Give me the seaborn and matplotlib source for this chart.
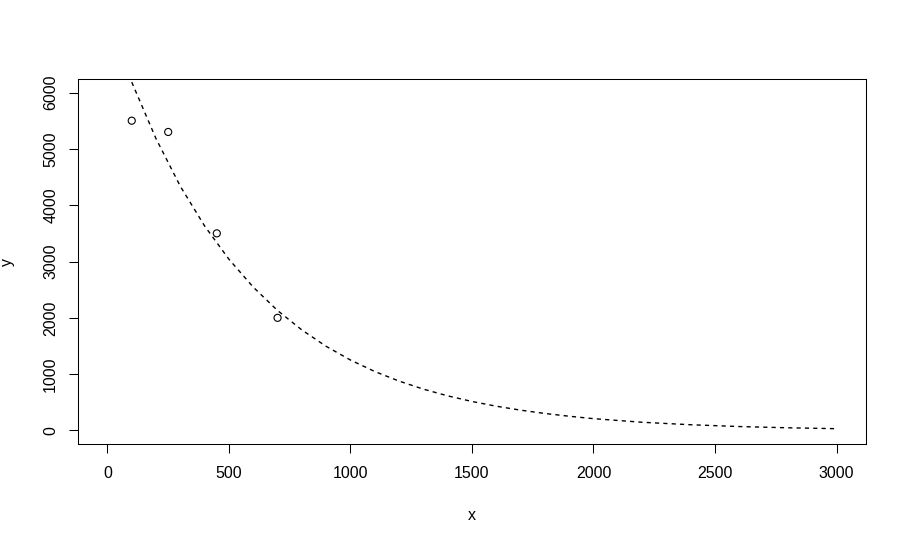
import matplotlib
matplotlib.use("Agg")
import matplotlib.pyplot as plt
import seaborn as sns

# observed points
obs_x = [100, 250, 450, 700]
obs_y = [5500, 5300, 3500, 2000]

# fitted curve
fit_x = [100, 200, 300, 400, 500, 600, 700, 800, 900, 1000,
         1100, 1200, 1300, 1400, 1500, 1600, 1700, 1800, 1900, 2000,
         2200, 2400, 2600, 2800, 3000]
fit_y = [6185, 5180, 4335, 3630, 3040, 2545, 2130, 1785, 1494, 1251,
         1047, 877, 734, 615, 515, 431, 361, 302, 253, 210,
         146, 102, 70, 48, 32]

x_ticks = [0, 500, 1000, 1500, 2000, 2500, 3000]
y_ticks = [0, 1000, 2000, 3000, 4000, 5000, 6000]

sns.set_style("white")
plt.rcParams['font.family'] = ['Liberation Sans', 'DejaVu Sans']

fig = plt.figure(figsize=(9.06, 5.42), dpi=100)
ax = fig.add_axes([0.0864, 0.1808, 0.8691, 0.6734])

# dashed fit curve
sns.lineplot(x=fit_x, y=fit_y, ax=ax, color='black', lw=1.0,
             linestyle=(0, (3, 3)), estimator=None, sort=False)
# open circles for the data
sns.scatterplot(x=obs_x, y=obs_y, ax=ax, s=26, marker='o',
                facecolor='none', edgecolor='black', linewidth=0.8, zorder=3)

ax.set_xlim(-120, 3120)
ax.set_ylim(-240, 6240)
ax.set_xticks(x_ticks)
ax.set_yticks(y_ticks)
ax.set_yticklabels([str(v) for v in y_ticks], rotation=90, va='center')

for sp in ax.spines.values():
    sp.set_color('black')
    sp.set_linewidth(0.75)

ax.tick_params(axis='both', direction='out', length=6.5, width=0.75,
               color='black', labelsize=11.5, labelcolor='black', pad=9.5)
ax.tick_params(axis='y', pad=8)
ax.tick_params(axis='both', which='both', bottom=True, left=True)

ax.set_xlabel('x', fontsize=11.5, color='black')
ax.set_ylabel('y', fontsize=11.5, color='black')
ax.xaxis.set_label_coords(0.5, -0.175)
ax.yaxis.set_label_coords(-0.08, 0.5)

fig.savefig('out.png', dpi=100)
